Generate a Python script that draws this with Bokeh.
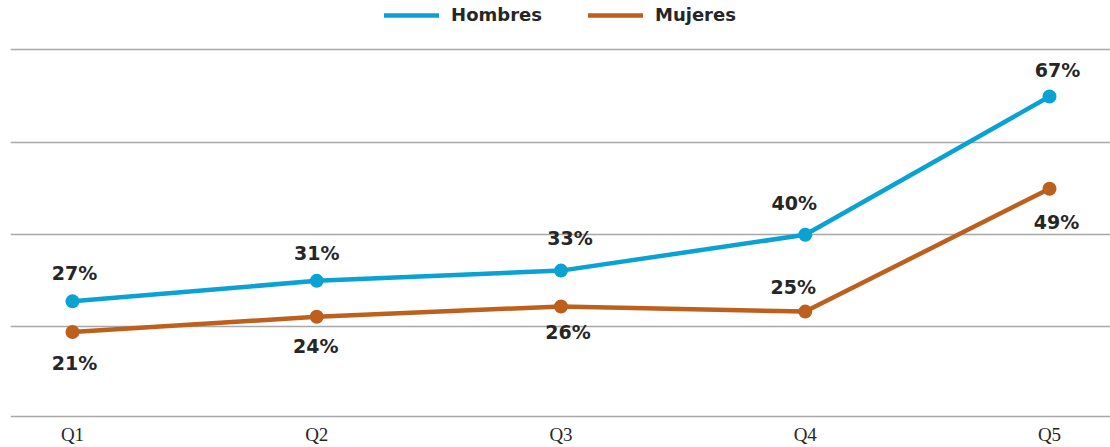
from bokeh.plotting import figure
from bokeh.models import ColumnDataSource, Range1d, FixedTicker, Legend, LegendItem
from bokeh.core.properties import value
from bokeh.embed import file_html
from bokeh.resources import INLINE

# ---- data ----
categories = ["Q1", "Q2", "Q3", "Q4", "Q5"]
hombres = [27, 31, 33, 40, 67]
mujeres = [21, 24, 26, 25, 49]

# ---- style ----
C_H = "#0aa1d3"
C_M = "#bd5f1d"
TXT = "#262626"
GRID = "#a8a8a8"
x_idx = list(range(len(categories)))
grid_vals = [4.5, 22.0, 40.1, 58.0, 76.2]

# label offsets in screen pixels (dx, dy; dy positive = down)
h_dx = [2, 0, 9, -11, 8]
h_dy = [-28, -28, -33, -32, -27]
m_dx = [2, -1, 7, -12, 7]
m_dy = [31, 29, 26, -25, 33]

p = figure(width=1110, height=447, output_backend="svg", toolbar_location=None,
           x_range=Range1d(-0.2538, 4.2497), y_range=Range1d(3.14, 85.76),
           min_border_left=10, min_border_right=0, min_border_top=0, min_border_bottom=20)
p.outline_line_color = None
p.background_fill_color = "white"
p.border_fill_color = "white"

p.yaxis.visible = False
p.xgrid.visible = False
p.ygrid.ticker = FixedTicker(ticks=grid_vals)
p.ygrid.grid_line_color = GRID
p.ygrid.grid_line_width = 1.5

xa = p.xaxis[0]
xa.ticker = FixedTicker(ticks=x_idx)
xa.major_label_overrides = {i: c for i, c in zip(x_idx, categories)}
xa.axis_line_color = None
xa.major_tick_line_color = None
xa.minor_tick_line_color = None
xa.major_tick_out = 0
xa.major_tick_in = 0
xa.minor_tick_out = 0
xa.minor_tick_in = 0
xa.major_label_standoff = 0
xa.major_label_text_font = "Liberation Serif"
xa.major_label_text_font_size = "19px"
xa.major_label_text_color = TXT

src_h = ColumnDataSource(dict(x=x_idx, y=hombres, t=[f"{v}%" for v in hombres], dx=h_dx, dy=h_dy))
src_m = ColumnDataSource(dict(x=x_idx, y=mujeres, t=[f"{v}%" for v in mujeres], dx=m_dx, dy=m_dy))

lh = p.line("x", "y", source=src_h, line_color=C_H, line_width=4.5, line_cap="round", line_join="round")
p.scatter("x", "y", source=src_h, size=14, fill_color=C_H, line_color=None)
lm = p.line("x", "y", source=src_m, line_color=C_M, line_width=4.5, line_cap="round", line_join="round")
p.scatter("x", "y", source=src_m, size=14, fill_color=C_M, line_color=None)

for src in (src_h, src_m):
    p.text("x", "y", text="t", source=src, x_offset="dx", y_offset="dy",
           text_font=value("DejaVu Sans"), text_font_style="bold", text_font_size="19px",
           text_color=TXT, text_align="center", text_baseline="middle")

legend = Legend(items=[LegendItem(label="Hombres", renderers=[lh]),
                       LegendItem(label="Mujeres", renderers=[lm])],
                location="top_center", orientation="horizontal")
legend.background_fill_alpha = 0
legend.border_line_color = None
legend.margin = 4
legend.padding = 5
legend.glyph_width = 55
legend.glyph_height = 20
legend.label_standoff = 12
legend.spacing = 46
legend.label_text_font = "DejaVu Sans"
legend.label_text_font_style = "bold"
legend.label_text_font_size = "18px"
legend.label_text_color = TXT
p.add_layout(legend)

open("out.html", "w").write(file_html(p, INLINE))
